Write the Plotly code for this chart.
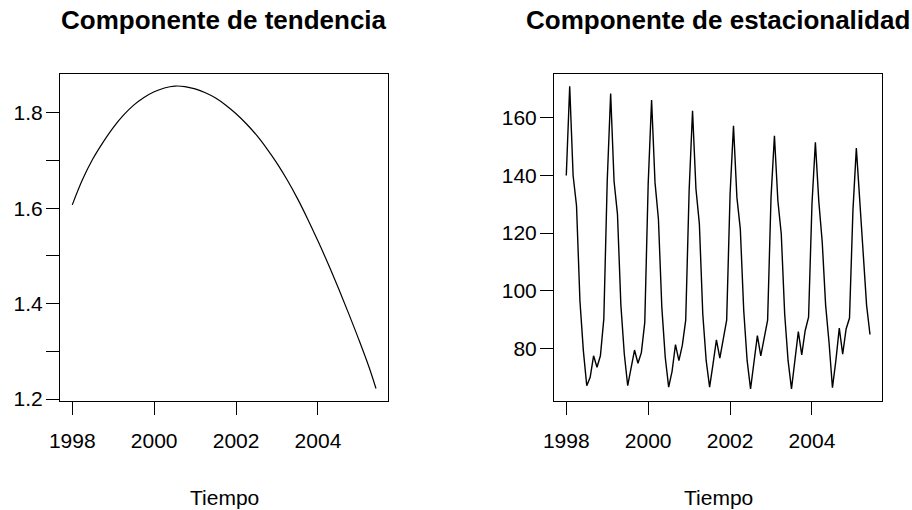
import plotly.graph_objects as go

# ---- data ----
trend_time = [1998.00, 1998.25, 1998.50, 1998.75, 1999.00, 1999.25, 1999.50, 1999.75,
              2000.00, 2000.25, 2000.50, 2000.75, 2001.00, 2001.25, 2001.50, 2001.75,
              2002.00, 2002.25, 2002.50, 2002.75, 2003.00, 2003.25, 2003.50, 2003.75,
              2004.00, 2004.25, 2004.50, 2004.75, 2005.00, 2005.25, 2005.4167]
trend_vals = [1.607, 1.660, 1.703, 1.738, 1.769, 1.795, 1.816, 1.832,
              1.844, 1.852, 1.856, 1.855, 1.850, 1.842, 1.831, 1.816,
              1.798, 1.777, 1.753, 1.725, 1.694, 1.659, 1.620, 1.577,
              1.531, 1.483, 1.432, 1.379, 1.324, 1.266, 1.222]

season_start_year = 1998
seasonal_vals = [
    140.0, 171.0, 140.0, 129.5, 96.5, 79.2, 67.0, 69.9, 77.4, 73.4, 77.4, 90.2,   # 1998
    138.2, 168.5, 138.0, 126.6, 95.0, 78.0, 67.0, 73.4, 79.4, 74.8, 78.5, 89.0,   # 1999
    137.0, 166.2, 137.6, 124.9, 94.2, 76.9, 66.5, 72.0, 81.3, 75.7, 81.0, 89.8,   # 2000
    134.7, 162.5, 135.3, 123.2, 91.9, 75.7, 66.5, 74.5, 82.9, 76.6, 83.8, 89.8,   # 2001
    133.5, 157.3, 132.4, 121.4, 93.1, 75.7, 65.9, 74.5, 84.4, 77.4, 83.8, 89.8,   # 2002
    132.4, 153.8, 131.3, 119.7, 91.9, 75.7, 65.9, 75.7, 85.8, 77.7, 86.1, 90.8,   # 2003
    130.1, 151.5, 131.0, 117.0, 95.0, 82.0, 66.3, 75.7, 87.0, 78.0, 86.7, 90.5,   # 2004
    127.8, 149.5, 130.0, 114.0, 95.0, 84.8,                                       # 2005
]
season_time = [season_start_year + i / 12 for i in range(len(seasonal_vals))]

x_ticks = [1998, 2000, 2002, 2004]
trend_ticks = [1.2, 1.3, 1.4, 1.5, 1.6, 1.7, 1.8]
trend_ticklabels = ["1.2", "", "1.4", "", "1.6", "", "1.8"]
season_ticks = [80, 100, 120, 140, 160]

titles = ["Componente de tendencia", "Componente de estacionalidad"]
xlabel = "Tiempo"

# ---- figure ----
W, H = 912, 510
FONT = "Liberation Sans, Arial, Helvetica, sans-serif"

def px_x(p):
    return p / W

def px_y(p):
    return 1 - p / H

left_dom = [px_x(60), px_x(388)]
right_dom = [px_x(554), px_x(882)]
y_dom = [px_y(401), px_y(74)]

fig = go.Figure()
fig.add_trace(go.Scatter(x=trend_time, y=trend_vals, mode="lines",
                         line=dict(color="black", width=1.2, shape="spline", smoothing=1.0),
                         xaxis="x", yaxis="y", showlegend=False, hoverinfo="skip"))
fig.add_trace(go.Scatter(x=season_time, y=seasonal_vals, mode="lines",
                         line=dict(color="black", width=1.4),
                         xaxis="x2", yaxis="y2", showlegend=False, hoverinfo="skip"))

axis_common = dict(showline=True, mirror=True, linecolor="black", linewidth=1,
                   showgrid=False, zeroline=False, ticks="outside", ticklen=13,
                   tickwidth=1, tickcolor="black", automargin=False,
                   tickfont=dict(family=FONT, size=21, color="black"))

xr = [1997.70, 2005.71]
fig.update_layout(
    width=W, height=H,
    margin=dict(l=0, r=0, t=0, b=0),
    paper_bgcolor="white", plot_bgcolor="white",
    xaxis=dict(domain=left_dom, anchor="y", range=xr, tickvals=x_ticks,
               ticktext=[str(t) for t in x_ticks], ticklabelstandoff=8, **axis_common),
    yaxis=dict(domain=y_dom, anchor="x", range=[1.1958, 1.8813], tickvals=trend_ticks,
               ticktext=trend_ticklabels, ticklabelstandoff=-1, **axis_common),
    xaxis2=dict(domain=right_dom, anchor="y2", range=xr, tickvals=x_ticks,
                ticktext=[str(t) for t in x_ticks], ticklabelstandoff=8, **axis_common),
    yaxis2=dict(domain=y_dom, anchor="x2", range=[61.70, 175.24], tickvals=season_ticks,
                ticktext=[str(t) for t in season_ticks], ticklabelstandoff=-1, **axis_common),
)

for dom, title in zip([left_dom, right_dom], titles):
    cx = (dom[0] + dom[1]) / 2
    fig.add_annotation(x=cx, y=px_y(20), xref="paper", yref="paper", text="<b>" + title + "</b>",
                       showarrow=False, xanchor="center", yanchor="middle",
                       font=dict(family=FONT, size=26, color="black"))
    fig.add_annotation(x=cx, y=px_y(497), xref="paper", yref="paper", text=xlabel,
                       showarrow=False, xanchor="center", yanchor="middle",
                       font=dict(family=FONT, size=21, color="black"))

fig.write_html("out.html", config={"displayModeBar": False},
               post_script="document.body.style.margin='0';document.body.style.overflow='hidden';")
